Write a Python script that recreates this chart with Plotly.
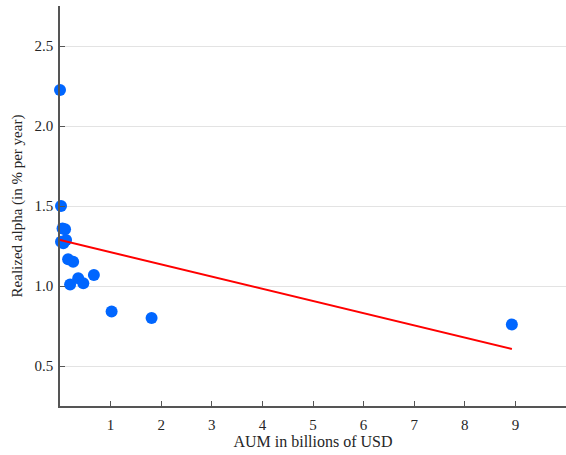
import numpy as np
import plotly.graph_objects as go

# Assets under management (billions USD) and realized alpha (% per year)
aum = [0.00, 0.02, 0.05, 0.10, 0.02, 0.12, 0.065, 0.16, 0.26, 0.20, 0.36, 0.46, 0.67, 1.02, 1.81, 8.93]
alpha = [2.225, 1.50, 1.36, 1.355, 1.277, 1.2875, 1.267, 1.167, 1.152, 1.01, 1.048, 1.017, 1.069, 0.84, 0.80, 0.76]

# Linear fit of alpha on AUM
fit_intercept = 1.2875
fit_slope = -0.0763

x_ticks = [1, 2, 3, 4, 5, 6, 7, 8, 9]
y_ticks = [0.5, 1.0, 1.5, 2.0, 2.5]

fit_x = np.array([min(aum), max(aum)])
fit_y = fit_intercept + fit_slope * fit_x

fig = go.Figure()
fig.add_trace(go.Scatter(
    x=aum, y=alpha, mode="markers",
    marker=dict(color="#0066FF", size=12, line=dict(width=0)),
    cliponaxis=False, showlegend=False,
))
fig.add_trace(go.Scatter(
    x=fit_x, y=fit_y, mode="lines",
    line=dict(color="#FF0000", width=2),
    showlegend=False,
))

font_family = "Liberation Serif, DejaVu Serif, serif"
fig.update_layout(
    width=566, height=455,
    margin=dict(l=60, r=0, t=6, b=49),
    plot_bgcolor="white", paper_bgcolor="white",
    font=dict(family=font_family, size=15, color="#262626"),
)
fig.update_xaxes(
    range=[0, 10], tickvals=x_ticks, ticktext=[str(v) for v in x_ticks],
    showgrid=False, zeroline=False,
    showline=True, linecolor="#555555", linewidth=1.5,
    ticks="inside", ticklen=5, tickcolor="#555555", tickwidth=1,
    ticklabelstandoff=4,
    title=dict(text="AUM in billions of USD", font=dict(size=16), standoff=4),
)
fig.update_yaxes(
    range=[0.25, 2.75], tickvals=y_ticks, ticktext=[f"{v:.1f}" for v in y_ticks],
    showgrid=True, gridcolor="#e3e3e3", gridwidth=1, zeroline=False,
    showline=True, linecolor="#555555", linewidth=1.5,
    ticks="inside", ticklen=5, tickcolor="#555555", tickwidth=1,
    ticklabelstandoff=2,
    title=dict(text="Realized alpha (in % per year)", font=dict(size=15), standoff=8),
)

fig.write_html("out.html")
